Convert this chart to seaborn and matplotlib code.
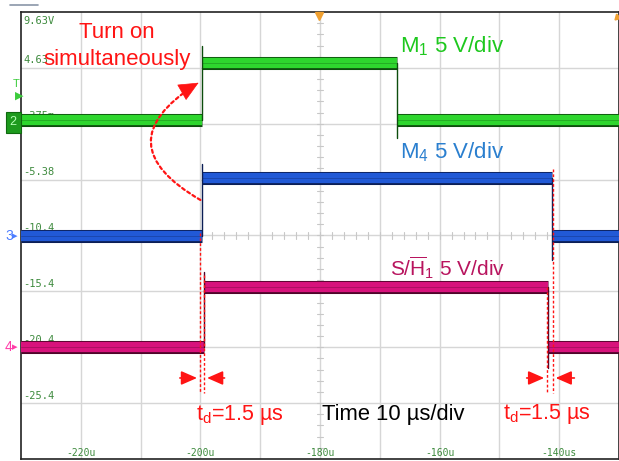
import matplotlib
matplotlib.use("Agg")
import matplotlib.pyplot as plt
import matplotlib.patheffects as pe
from matplotlib.lines import Line2D
from matplotlib.patches import Rectangle
import seaborn as sns
import numpy as np

sns.set_theme(style="white")
plt.rcParams['font.family'] = ['Liberation Sans', 'DejaVu Sans']
plt.rcParams['mathtext.fontset'] = 'custom'
plt.rcParams['mathtext.rm'] = 'Liberation Sans'
plt.rcParams['mathtext.it'] = 'Liberation Sans:italic'

# ---------------- data (time in us, displayed volts) ----------------
x_ticks = [-220, -200, -180, -160, -140]
x_tick_labels = ["-220u", "-200u", "-180u", "-160u", "-140us"]
y_ticks = [9.63, 4.63, -0.375, -5.38, -10.4, -15.4, -20.4, -25.4]
y_tick_labels = ["9.63V", "4.63", "-375m", "-5.38", "-10.4", "-15.4", "-20.4", "-25.4"]

t_start, t_end = -230.0, -130.0

# M1 (green): low level, high level, rise time, fall time, spike extremes
m1_low, m1_high = 0.0, 5.07
m1_rise, m1_fall = -199.8, -167.1
m1_rise_peak, m1_fall_dip = 6.6, -1.64

# M4 (blue)
m4_low, m4_high = -10.41, -5.22
m4_rise, m4_fall = -199.7, -141.2
m4_rise_peak, m4_fall_dip = -3.97, -12.56

# S/H1 (magenta)
sh_low, sh_high = -20.35, -14.98
sh_rise, sh_fall = -199.4, -141.9
sh_rise_peak, sh_fall_dip = -13.63, -22.22

W, H = 619, 461
fig = plt.figure(figsize=(W / 100, H / 100), dpi=100)
ax = fig.add_axes([21 / W, 2 / H, 598 / W, 447 / H])
ax.set_xlim(t_start, t_end)
ax.set_ylim(-30.37, 9.63)
ax.set_xticks([])
ax.set_yticks([])
for s in ax.spines.values():
    s.set_color("#222222")
    s.set_linewidth(1.2)

# grid
grid_c = "#d6d6d6"
for gx in np.arange(-220, -130, 10):
    ax.axvline(gx, color=grid_c, lw=1.0, zorder=0)
for gy in np.arange(4.63, -30.37, -5):
    ax.axhline(gy, color=grid_c, lw=1.0, zorder=0)
# center-line minor ticks
for mt in np.arange(-228, -130, 2):
    ax.plot([mt, mt], [-10.37 - 0.3, -10.37 + 0.3], color="#c8c8c8", lw=0.8, zorder=0)
for mv in np.arange(-29.37, 9.63, 1):
    ax.plot([-180.5, -179.5], [mv, mv], color="#c8c8c8", lw=0.8, zorder=0)

# tick labels
tick_c = "#3d8a3d"
for xv, lab in zip(x_ticks, x_tick_labels):
    ax.text(xv, -29.8, lab, ha="center", va="center", fontsize=7,
            family="DejaVu Sans Mono", color=tick_c, zorder=1)
for i, (yv, lab) in enumerate(zip(y_ticks, y_tick_labels)):
    if i == 0:
        ax.text(-229.6, yv - 0.35, lab, ha="left", va="top", fontsize=7.5,
                family="DejaVu Sans Mono", color=tick_c, zorder=1)
    else:
        ax.text(-229.6, yv + 0.25, lab, ha="left", va="bottom", fontsize=7.5,
                family="DejaVu Sans Mono", color=tick_c, zorder=1)

# traces: thick bands on the flat parts, thin edges at transitions
def trace(low, high, rise, fall, peak, dip, col, dark):
    segs = [([t_start, rise], [low, low]),
            ([rise, fall], [high, high]),
            ([fall, t_end], [low, low])]
    for xs, ys in segs:
        sns.lineplot(x=xs, y=ys, ax=ax, color=col, lw=7.4, sort=False, estimator=None,
                     zorder=3, solid_capstyle="butt",
                     path_effects=[pe.Stroke(linewidth=9.4, foreground=dark), pe.Normal()])
        sns.lineplot(x=xs, y=ys, ax=ax, color=dark, lw=0.6, sort=False, estimator=None,
                     zorder=4, alpha=0.35)
    sns.lineplot(x=[rise, rise], y=[low, peak], ax=ax, color=dark, lw=1.0,
                 sort=False, estimator=None, zorder=4)
    sns.lineplot(x=[fall, fall], y=[high, dip], ax=ax, color=dark, lw=1.0,
                 sort=False, estimator=None, zorder=4)

trace(m1_low, m1_high, m1_rise, m1_fall, m1_rise_peak, m1_fall_dip, "#2ed62e", "#0d4d0d")
trace(m4_low, m4_high, m4_rise, m4_fall, m4_rise_peak, m4_fall_dip, "#2159d6", "#0b1e55")
trace(sh_low, sh_high, sh_rise, sh_fall, sh_rise_peak, sh_fall_dip, "#d8127c", "#4d0529")

red = "#ff1414"
# dashed markers for delays
dash = (0, (2, 1.5))
ax.plot([-200.07, -200.07], [-10.15, -24.46], color=red, lw=1.0, ls=dash, zorder=5)
ax.plot([-199.4, -199.4], [-13.9, -24.46], color=red, lw=1.0, ls=dash, zorder=5)
ax.plot([-142.0, -142.0], [-15.0, -24.46], color=red, lw=1.0, ls=dash, zorder=5)
ax.plot([-141.1, -141.1], [-4.4, -24.46], color=red, lw=1.0, ls=dash, zorder=5)

arrow_kw = dict(arrowstyle="-|>,head_length=0.8,head_width=0.35", color=red, lw=1.2)
ya = -23.12
ax.annotate("", xy=(-200.1, ya), xytext=(-203.9, ya), arrowprops=arrow_kw, zorder=6)
ax.annotate("", xy=(-199.35, ya), xytext=(-195.5, ya), arrowprops=arrow_kw, zorder=6)
ax.annotate("", xy=(-142.05, ya), xytext=(-145.9, ya), arrowprops=arrow_kw, zorder=6)
ax.annotate("", xy=(-141.05, ya), xytext=(-137.0, ya), arrowprops=arrow_kw, zorder=6)

# curved dotted arrow (dotted arc + solid head)
curve_end = (-200.3, 3.3)
ax.annotate("", xy=curve_end, xytext=(-200.0, -7.19),
            arrowprops=dict(arrowstyle="-", color=red, lw=1.6, ls=(0, (1.4, 1.4)),
                            connectionstyle="arc3,rad=-0.83", shrinkA=0, shrinkB=3),
            zorder=6)
ax.annotate("", xy=curve_end, xytext=(-14, -8), textcoords="offset pixels",
            arrowprops=dict(arrowstyle="-|>,head_length=1.1,head_width=0.5", color=red,
                            lw=0.5, shrinkA=0, shrinkB=0),
            zorder=6)

def px(x, y):
    return x / W, 1 - y / H

fig.text(*px(117, 38), "Turn on", ha="center", va="baseline", fontsize=16, color=red)
fig.text(*px(117, 65), "simultaneously", ha="center", va="baseline", fontsize=16, color=red)
fig.text(*px(400, 52), "M$_1$ 5 V/div", ha="left", va="baseline", fontsize=16, color="#1ec81e")
fig.text(*px(400, 158), "M$_4$ 5 V/div", ha="left", va="baseline", fontsize=16, color="#2a7fcf")
fig.text(*px(390, 276), r"S/$\overline{\mathrm{H}}_1$ 5 V/div", ha="left", va="baseline",
         fontsize=15, color="#b8145e")
fig.text(*px(196, 420), r"t$_\mathrm{d}$=1.5 µs", ha="left", va="baseline", fontsize=15.5, color=red)
fig.text(*px(503, 419), r"t$_\mathrm{d}$=1.5 µs", ha="left", va="baseline", fontsize=15.5, color=red)
fig.text(*px(322, 420), "Time 10 µs/div", ha="left", va="baseline", fontsize=15.8, color="black")

# channel markers at left
fig.add_artist(Rectangle(px(6, 133), 15 / W, 21 / H, facecolor="#1d9a1d",
                         edgecolor="#0f6a0f", lw=0.8))
fig.text(*px(9, 125), "2", fontsize=9, color="#b6ffb6", va="baseline")
fig.text(*px(5, 240), "3", fontsize=10, color="#4c7dff", va="baseline")
fig.text(*px(12, 239), "▸", fontsize=8, color="#4c7dff", va="baseline")
fig.text(*px(5, 351), "4", fontsize=10, color="#ff3aa8", va="baseline")
fig.text(*px(12, 350), "▸", fontsize=8, color="#ff3aa8", va="baseline")
fig.text(*px(13, 87), "T", fontsize=8, color="#3ccc3c", va="baseline")
fig.text(*px(15, 99), "▶", fontsize=8, color="#3ccc3c", va="baseline")

# top decorations
fig.add_artist(Line2D([10 / W, 38 / W], [1 - 5 / H, 1 - 5 / H], color="#8a96a8", lw=1.2))
ax.plot([-180.2], [9.3], marker="v", color="#f0a030", ms=6, clip_on=False, zorder=7)
ax.plot([-130.4], [9.2], marker=(3, 0, 15), color="#f0a030", ms=5, clip_on=False, zorder=7)

fig.savefig("out.png", dpi=100)
